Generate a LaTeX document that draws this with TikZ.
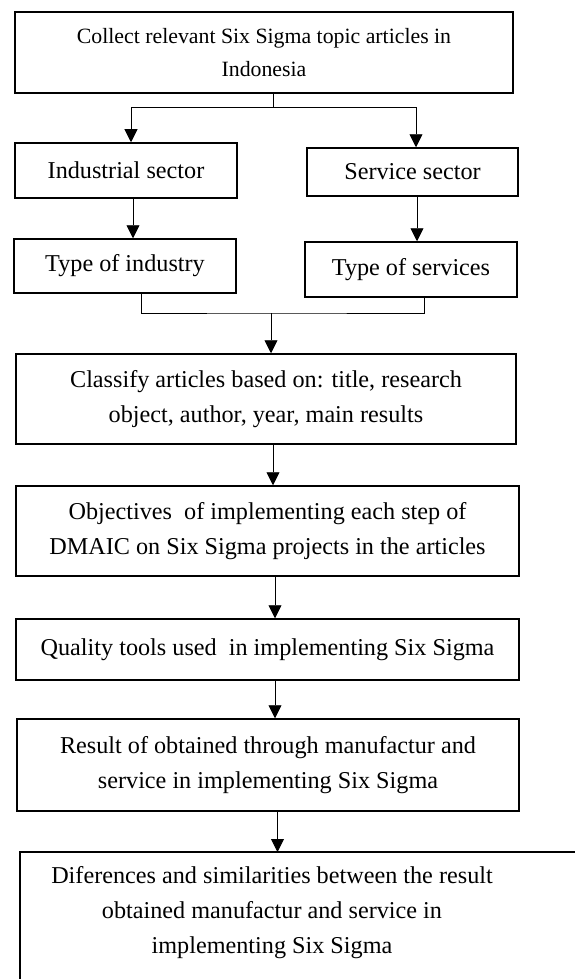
\documentclass[tikz,border=0pt]{standalone}
\usepackage{fontspec}
\setmainfont{Liberation Serif}
\usetikzlibrary{arrows.meta,positioning}

\begin{document}
\begin{tikzpicture}[
        x=1pt, y=-1pt,
        % box styles
        stepbox/.style={rectangle, draw=black, line width=1.5pt, inner sep=0pt, align=center,
            font=\fontsize{24.2pt}{35.5pt}\selectfont},
        plain/.style={inner sep=0pt, align=center, font=\fontsize{24.2pt}{35pt}\selectfont},
        link/.style={line width=0.9pt},
        arrow/.style={line width=0.9pt, -{Triangle[width=13pt,length=13pt]}}
    ]
        \useasboundingbox (0,0) rectangle (574,979);

        % node placement
        \node (collect) [stepbox, minimum width=498pt, minimum height=81pt,
            font=\fontsize{21.8pt}{32.5pt}\selectfont] at (264,52.5)
            {Collect relevant Six Sigma topic articles in\\Indonesia};
        \node (indus) [stepbox, minimum width=222pt, minimum height=55pt] at (126,170.5) {Industrial sector};
        \node (serv) [stepbox, minimum width=211pt, minimum height=48pt] at (412.5,172) {Service sector};
        \node (tind) [stepbox, minimum width=222pt, minimum height=54pt] at (125,266) {Type of industry};
        \node (tserv) [stepbox, minimum width=212pt, minimum height=55pt] at (411,269.5) {Type of services};
        \node (classify) [stepbox, minimum width=500pt, minimum height=90pt] at (266,399)
            {Classify articles based on: title, research\\object, author, year, main results};
        \node (objective) [stepbox, minimum width=503pt, minimum height=90pt] at (267.5,531)
            {Objectives\ \ of implementing each step of\\DMAIC on Six Sigma projects in the articles};
        \node (quality) [stepbox, minimum width=503pt, minimum height=61pt] at (267.5,649.5)
            {Quality tools used\ \ in implementing Six Sigma};
        \node (result) [stepbox, minimum width=502pt, minimum height=92pt] at (268,765)
            {Result of obtained through manufactur and\\service in implementing Six Sigma};
        \node (diff) [plain] at (272,913)
            {Diferences and similarities between the result\\obtained manufactur and service in\\implementing Six Sigma};
        \draw[line width=1.5pt] (20,852) rectangle (600,1000); % last box runs off the page

        % junction points
        \coordinate (split) at (273,107);
        \coordinate (merge) at (271,313);
        \coordinate (difftop) at (277.5,852);

        % connectors
        \draw[link] (collect.south -| split) -- (split);
        \draw[arrow] (split) -| ([xshift=5pt]indus.north);
        \draw[arrow] (split) -| ([xshift=3.5pt]serv.north);
        \draw[arrow] ([xshift=7pt]indus.south) -- ([xshift=8pt]tind.north);
        \draw[arrow] ([xshift=4.5pt]serv.south) -- ([xshift=6pt]tserv.north);
        \draw[link] ([xshift=16pt]tind.south) |- (merge) -| ([xshift=13pt]tserv.south);
        \draw[arrow] (merge) -- ([xshift=5pt]classify.north);
        \draw[arrow] ([xshift=7pt]classify.south) -- ([xshift=5.5pt]objective.north);
        \draw[arrow] ([xshift=7.5pt]objective.south) -- ([xshift=7.5pt]quality.north);
        \draw[arrow] ([xshift=7.5pt]quality.south) -- ([xshift=7pt]result.north);
        \draw[arrow] ([xshift=9.5pt]result.south) -- (difftop);

    \end{tikzpicture}
\end{document}
